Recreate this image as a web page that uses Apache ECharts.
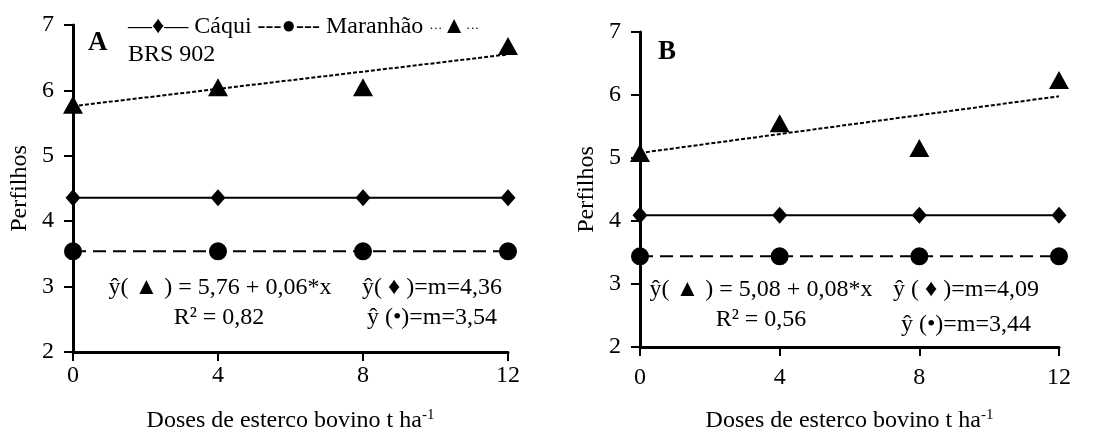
<!DOCTYPE html>
<html>
<head>
<meta charset="utf-8">
<script src="https://cdn.jsdelivr.net/npm/echarts@6/dist/echarts.min.js"></script>
<style>html,body{margin:0;padding:0;background:#fff}#c{width:1106px;height:432px}</style>
</head>
<body>
<div id="c"></div>
<script>
// ---- data ----
var doses = [0, 4, 8, 12];
var xTicks = [0, 4, 8, 12];
var yTicks = [2, 3, 4, 5, 6, 7];
var caquiA = [4.36, 4.36, 4.36, 4.36];
var maranhaoA = [3.54, 3.54, 3.54, 3.54];
var brsA = [5.78, 6.05, 6.05, 6.68];
var trendXA = [0, 12];
var trendA = [5.76, 6.55];
var caquiB = [4.09, 4.09, 4.09, 4.09];
var maranhaoB = [3.44, 3.44, 3.44, 3.44];
var brsB = [5.08, 5.55, 5.16, 6.24];
var trendXB = [0, 12];
var trendB = [5.08, 5.98];

var FONT = '"Liberation Serif","Times New Roman",serif';
var FS = 24;
function pairs(xs, ys) { return xs.map(function (x, i) { return [x, ys[i]]; }); }

var grids = [
  { left: 73, top: 25, width: 435, height: 327, containLabel: false, outerBoundsMode: 'none' },
  { left: 640, top: 32, width: 419, height: 315, containLabel: false, outerBoundsMode: 'none' }
];
var xLabelMargin = [12, 19];
var xNameGap = [56, 61];

function xAx(i) {
  return {
    gridIndex: i, type: 'value', min: xTicks[0], max: xTicks[xTicks.length - 1], interval: 4,
    axisLine: { show: true, lineStyle: { color: '#000', width: 3 } },
    axisTick: { show: true, length: 9, lineStyle: { color: '#000', width: 2 } },
    axisLabel: { color: '#000', fontFamily: FONT, fontSize: FS, margin: xLabelMargin[i] },
    splitLine: { show: false },
    name: 'Doses de esterco bovino t ha{sup|-1}', nameLocation: 'middle', nameGap: xNameGap[i],
    nameTextStyle: { color: '#000', fontFamily: FONT, fontSize: FS,
      rich: { sup: { fontFamily: FONT, fontSize: 15, color: '#000', verticalAlign: 'top', padding: [0, 0, 10, 0] } } }
  };
}
function yAx(i) {
  return {
    gridIndex: i, type: 'value', min: yTicks[0], max: yTicks[yTicks.length - 1], interval: 1,
    axisLine: { show: true, lineStyle: { color: '#000', width: 3 } },
    axisTick: { show: true, length: 9, lineStyle: { color: '#000', width: 2 } },
    axisLabel: { color: '#000', fontFamily: FONT, fontSize: FS, margin: 19 },
    splitLine: { show: false },
    name: 'Perfilhos', nameLocation: 'middle', nameGap: 41,
    nameTextStyle: { color: '#000', fontFamily: FONT, fontSize: FS }
  };
}

function seriesFor(i, caqui, maranhao, brs, tx, tr) {
  return [
    { name: 'Cáqui', type: 'line', xAxisIndex: i, yAxisIndex: i, data: pairs(doses, caqui),
      symbol: 'diamond', symbolSize: [15, 17], itemStyle: { color: '#000', opacity: 1 },
      lineStyle: { color: '#000', width: 2, type: 'solid' }, silent: true, z: 3 },
    { name: 'Maranhão', type: 'line', xAxisIndex: i, yAxisIndex: i, data: pairs(doses, maranhao),
      symbol: 'circle', symbolSize: 18, itemStyle: { color: '#000', opacity: 1 },
      lineStyle: { color: '#000', width: 2, type: [13, 7] }, silent: true, z: 3 },
    { name: 'BRS 902', type: 'scatter', xAxisIndex: i, yAxisIndex: i, data: pairs(doses, brs),
      symbol: 'triangle', symbolSize: [20, 18], itemStyle: { color: '#000', opacity: 1 }, silent: true, z: 4 },
    { name: 'BRS 902 trend', type: 'line', xAxisIndex: i, yAxisIndex: i, data: pairs(tx, tr),
      symbol: 'none', lineStyle: { color: '#000', width: 2, type: [4, 2] }, silent: true, z: 2 }
  ];
}

function t(x, y, text, align, font) {
  return { type: 'text', x: x, y: y, z: 10,
    style: { text: text, fill: '#000', font: font || (FS + 'px ' + FONT),
      textAlign: align || 'center', textVerticalAlign: 'middle',
      rich: { s: { fontFamily: FONT, fontSize: 13, fill: '#000', padding: [4, 0, 0, 0] } } } };
}

var chart = echarts.init(document.getElementById('c'), null, { renderer: 'canvas' });
chart.setOption({
  animation: false,
  backgroundColor: '#fff',
  grid: grids,
  xAxis: [xAx(0), xAx(1)],
  yAxis: [yAx(0), yAx(1)],
  series: seriesFor(0, caquiA, maranhaoA, brsA, trendXA, trendA)
    .concat(seriesFor(1, caquiB, maranhaoB, brsB, trendXB, trendB)),
  graphic: [
    t(88, 43, 'A', 'left', 'bold 27px ' + FONT),
    t(128, 27, '—♦— Cáqui ---●--- Maranhão {s|···}▲{s|···}', 'left'),
    t(128, 55, 'BRS 902', 'left'),
    t(220, 288, 'ŷ( ▲ ) = 5,76 + 0,06*x'),
    t(219, 318, 'R² = 0,82'),
    t(432, 288, 'ŷ( ♦ )=m=4,36'),
    t(432, 318, 'ŷ (•)=m=3,54'),
    t(658, 52, 'B', 'left', 'bold 27px ' + FONT),
    t(761, 290, 'ŷ( ▲ ) = 5,08 + 0,08*x'),
    t(761, 320, 'R² = 0,56'),
    t(966, 290, 'ŷ ( ♦ )=m=4,09'),
    t(966, 325, 'ŷ (•)=m=3,44')
  ]
});
</script>
</body>
</html>
